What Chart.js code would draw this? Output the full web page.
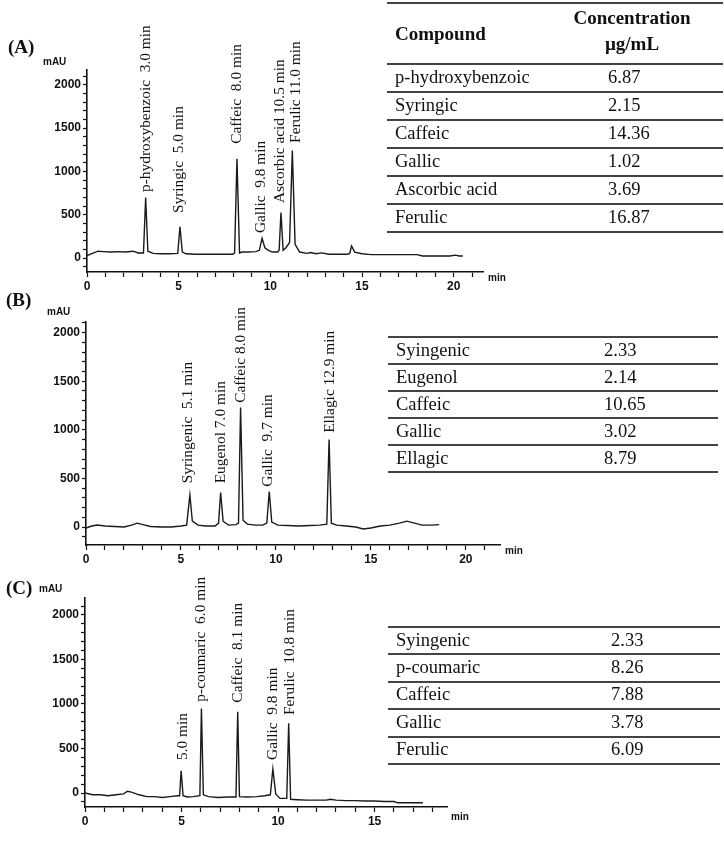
<!DOCTYPE html>
<html>
<head>
<meta charset="utf-8">
<script src="https://cdn.jsdelivr.net/npm/chart.js@4/dist/chart.umd.min.js"></script>
<style>
  body { margin: 0; background: #fff; width: 724px; height: 843px; position: relative; overflow: hidden; color: #111; }
  canvas { position: absolute; left: 0; }
  .tag { position: absolute; font: bold 19px "Liberation Serif", serif; }
  .unit { position: absolute; font: bold 10px "Liberation Sans", sans-serif; }
  .tbl { position: absolute; font: 18.5px "Liberation Serif", serif; }
  .tbl .row { position: relative; box-sizing: border-box; border-bottom: 2px solid #444; }
  .tbl .row span { position: absolute; top: 50%; transform: translateY(-52%); white-space: nowrap; }
  .tbl .head { font-weight: bold; font-size: 19px; }
</style>
</head>
<body>
<canvas id="chartA" width="510" height="295" style="top:0px"></canvas>
<canvas id="chartB" width="520" height="275" style="top:295px"></canvas>
<canvas id="chartC" width="500" height="273" style="top:570px"></canvas>

<div class="tag" style="left:8px;top:36px">(A)</div>
<div class="tag" style="left:6px;top:289px">(B)</div>
<div class="tag" style="left:6px;top:577px">(C)</div>
<div class="unit" style="left:43px;top:56px">mAU</div>
<div class="unit" style="left:47px;top:306px">mAU</div>
<div class="unit" style="left:39px;top:583px">mAU</div>
<div class="unit" style="left:488px;top:272px">min</div>
<div class="unit" style="left:505px;top:545px">min</div>
<div class="unit" style="left:451px;top:811px">min</div>

<div id="tableA" class="tbl"></div>
<div id="tableB" class="tbl"></div>
<div id="tableC" class="tbl"></div>

<script>
// Chromatogram (A)
const timeA = [0, 0.3, 0.6, 0.9, 1.3, 1.7, 2.1, 2.5, 2.8, 3.08, 3.2, 3.32, 3.6, 4.0, 4.5, 4.95, 5.07, 5.2, 5.4, 5.9, 6.5, 7.0, 7.5, 7.95, 8.05, 8.18, 8.32, 8.45, 8.8, 9.2, 9.4, 9.55, 9.7, 9.85, 10.1, 10.4, 10.48, 10.58, 10.7, 10.85, 11.05, 11.2, 11.35, 11.6, 12.0, 12.2, 12.5, 12.8, 13.2, 13.6, 14.2, 14.33, 14.43, 14.6, 15.0, 15.5, 16.0, 16.5, 17.0, 17.5, 18.0, 18.3, 18.8, 19.3, 19.8, 20.1, 20.3, 20.5];
const signalA = [30, 55, 80, 75, 70, 75, 70, 80, 60, 60, 700, 80, 55, 50, 50, 55, 360, 70, 50, 45, 45, 45, 45, 45, 60, 1145, 60, 70, 70, 75, 90, 230, 120, 95, 70, 70, 90, 525, 90, 120, 180, 1240, 160, 70, 55, 65, 50, 60, 45, 45, 45, 55, 140, 70, 50, 40, 40, 40, 40, 40, 40, 25, 25, 25, 25, 35, 25, 25];
const peakNamesA = ['p-hydroxybenzoic  3.0 min', 'Syringic  5.0 min', 'Caffeic  8.0 min', 'Gallic  9.8 min', 'Ascorbic acid 10.5 min', 'Ferulic 11.0 min'];
const peakTimesA = [3.22, 5.03, 8.2, 9.5, 10.55, 11.42];
const peakLevelsA = [763, 520, 1318, 289, 636, 1329];

// Chromatogram (B)
const timeB = [0, 0.3, 0.6, 1.0, 1.5, 2.0, 2.4, 2.7, 3.0, 3.4, 4.0, 4.5, 5.0, 5.3, 5.47, 5.6, 5.9, 6.3, 6.8, 6.98, 7.09, 7.22, 7.5, 7.9, 8.03, 8.14, 8.27, 8.5, 8.9, 9.3, 9.52, 9.65, 9.78, 10.1, 10.6, 11.2, 11.8, 12.3, 12.68, 12.8, 12.92, 13.2, 13.7, 14.2, 14.6, 15.0, 15.5, 16.0, 16.5, 16.9, 17.3, 17.7, 18.2, 18.6];
const signalB = [-10, 10, 20, 10, 5, 0, 20, 40, 25, 5, 0, 0, 10, 20, 330, 60, 20, 10, 10, 40, 355, 60, 20, 25, 40, 1230, 70, 30, 20, 20, 40, 365, 50, 20, 15, 10, 15, 20, 30, 900, 40, 20, 10, 0, -20, -10, 10, 20, 40, 60, 40, 20, 20, 25];
const peakNamesB = ['Syringenic  5.1 min', 'Eugenol 7.0 min', 'Caffeic 8.0 min', 'Gallic  9.7 min', 'Ellagic 12.9 min'];
const peakTimesB = [5.39, 7.09, 8.14, 9.6, 12.84];
const peakLevelsB = [450, 450, 1278, 415, 969];

// Chromatogram (C)
const timeC = [0, 0.4, 0.8, 1.2, 1.6, 2.0, 2.2, 2.4, 2.8, 3.2, 3.6, 4.0, 4.4, 4.8, 4.9, 4.98, 5.08, 5.3, 5.6, 5.95, 6.03, 6.13, 6.4, 6.9, 7.4, 7.82, 7.91, 8.0, 8.4, 8.9, 9.3, 9.6, 9.73, 9.88, 10.1, 10.45, 10.55, 10.65, 11.0, 11.5, 12.0, 12.5, 12.7, 13.0, 13.5, 14.0, 14.5, 15.0, 15.5, 16.0, 16.2, 16.8, 17.5];
const signalC = [0, -20, -20, -30, -20, -10, 20, 10, -20, -40, -40, -50, -40, -30, -30, 250, -30, -45, -40, -30, 950, -20, -40, -50, -45, -45, 912, -40, -45, -40, -30, -20, 270, -10, -60, -60, 783, -70, -75, -80, -80, -80, -70, -80, -85, -85, -90, -90, -95, -95, -110, -110, -110];
const peakNamesC = ['5.0 min', 'p-coumaric  6.0 min', 'Caffeic  8.1 min', 'Gallic  9.8 min', 'Ferulic  10.8 min'];
const peakTimesC = [5.06, 6.03, 7.91, 9.76, 10.62];
const peakLevelsC = [371, 1026, 1015, 371, 876];

// Concentration tables
const compoundsA = ['p-hydroxybenzoic', 'Syringic', 'Caffeic', 'Gallic', 'Ascorbic acid', 'Ferulic'];
const concA = [6.87, 2.15, 14.36, 1.02, 3.69, 16.87];
const compoundsB = ['Syingenic', 'Eugenol', 'Caffeic', 'Gallic', 'Ellagic'];
const concB = [2.33, 2.14, 10.65, 3.02, 8.79];
const compoundsC = ['Syingenic', 'p-coumaric', 'Caffeic', 'Gallic', 'Ferulic'];
const concC = [2.33, 8.26, 7.88, 3.78, 6.09];

// Draws the rotated peak names above the peaks
const peakLabelPlugin = {
  id: 'peakLabels',
  afterDatasetsDraw(chart, args, opts) {
    const ctx = chart.ctx;
    const xs = chart.scales.x;
    const ys = chart.scales.y;
    ctx.save();
    ctx.fillStyle = '#111';
    ctx.font = '15.4px "Liberation Serif", serif';
    ctx.textAlign = 'left';
    ctx.textBaseline = 'middle';
    opts.names.forEach((name, i) => {
      ctx.save();
      ctx.translate(xs.getPixelForValue(opts.times[i]), ys.getPixelForValue(opts.levels[i]));
      ctx.rotate(-Math.PI / 2);
      ctx.fillText(name, 0, 0);
      ctx.restore();
    });
    ctx.restore();
  }
};

const tickFont = { family: 'Liberation Sans', weight: 'bold', size: 12 };

// tick marks on every whole step between min and max
function stepTicks(step) {
  return s => {
    const ticks = [];
    for (let v = Math.ceil(s.min / step) * step; v <= s.max; v += step) {
      ticks.push({ value: v });
    }
    s.ticks = ticks;
  };
}

function drawChromatogram(id, times, signal, names, peakTimes, levels, xMax, yMin, yMax, box) {
  const ctx = document.getElementById(id).getContext('2d');
  return new Chart(ctx, {
    type: 'line',
    data: {
      datasets: [{
        data: times.map((t, i) => ({ x: t, y: signal[i] })),
        borderColor: '#1a1a1a',
        borderWidth: 1.4,
        pointRadius: 0,
        tension: 0,
        fill: false
      }]
    },
    options: {
      responsive: false,
      animation: false,
      layout: { padding: { top: box.top, right: box.right, left: 0, bottom: 0 } },
      plugins: {
        legend: { display: false },
        tooltip: { enabled: false },
        peakLabels: { names: names, times: peakTimes, levels: levels }
      },
      scales: {
        x: {
          type: 'linear',
          min: 0,
          max: xMax,
          border: { color: '#111', width: 1.6 },
          grid: { drawOnChartArea: false, tickLength: 5, color: '#111', tickWidth: 1.2 },
          ticks: {
            autoSkip: false,
            maxRotation: 0,
            padding: 2,
            color: '#111',
            font: tickFont,
            callback: v => (v % 5 === 0 ? v : '')
          },
          afterBuildTicks: stepTicks(1),
          afterFit: s => { s.height = box.bottom; }
        },
        y: {
          min: yMin,
          max: yMax,
          border: { color: '#111', width: 1.6 },
          grid: { drawOnChartArea: false, tickLength: 4, color: '#111', tickWidth: 1.2 },
          ticks: {
            autoSkip: false,
            padding: 2,
            color: '#111',
            font: tickFont,
            callback: v => (v % 500 === 0 ? v : '')
          },
          afterBuildTicks: stepTicks(100),
          afterFit: s => { s.width = box.left; }
        }
      }
    },
    plugins: [peakLabelPlugin]
  });
}

function buildTable(id, left, top, width, names, values, opts) {
  const el = document.getElementById(id);
  el.style.left = left + 'px';
  el.style.top = top + 'px';
  el.style.width = width + 'px';
  el.style.borderTop = '2px solid #444';
  if (opts.header) {
    const head = document.createElement('div');
    head.className = 'row head';
    head.style.height = opts.header + 'px';
    head.innerHTML = '<span style="left:8px;top:50%">Compound</span>' +
      '<span style="left:' + (opts.headX - 60) + 'px;width:120px;text-align:center;top:24%">Concentration</span>' +
      '<span style="left:' + (opts.headX - 60) + 'px;width:120px;text-align:center;top:67%">µg/mL</span>';
    el.appendChild(head);
  }
  names.forEach((name, i) => {
    const row = document.createElement('div');
    row.className = 'row';
    row.style.height = opts.rowH + 'px';
    row.innerHTML = '<span style="left:8px">' + name + '</span>' +
      '<span style="left:' + opts.valX + 'px">' + values[i].toFixed(2) + '</span>';
    el.appendChild(row);
  });
}

drawChromatogram('chartA', timeA, signalA, peakNamesA, peakTimesA, peakLevelsA, 21.6, -160, 2170,
  { top: 70, bottom: 23, left: 87, right: 27 });
drawChromatogram('chartB', timeB, signalB, peakNamesB, peakTimesB, peakLevelsB, 21.8, -185, 2110,
  { top: 27, bottom: 25, left: 86, right: 20 });
drawChromatogram('chartC', timeC, signalC, peakNamesC, peakTimesC, peakLevelsC, 18.75, -157, 2190,
  { top: 28, bottom: 36, left: 85, right: 53 });

buildTable('tableA', 387, 2, 336, compoundsA, concA, { header: 61, rowH: 28, valX: 221, headX: 245 });
buildTable('tableB', 388, 336, 330, compoundsB, concB, { rowH: 27, valX: 216 });
buildTable('tableC', 388, 626, 332, compoundsC, concC, { rowH: 27.4, valX: 223 });
</script>
</body>
</html>
